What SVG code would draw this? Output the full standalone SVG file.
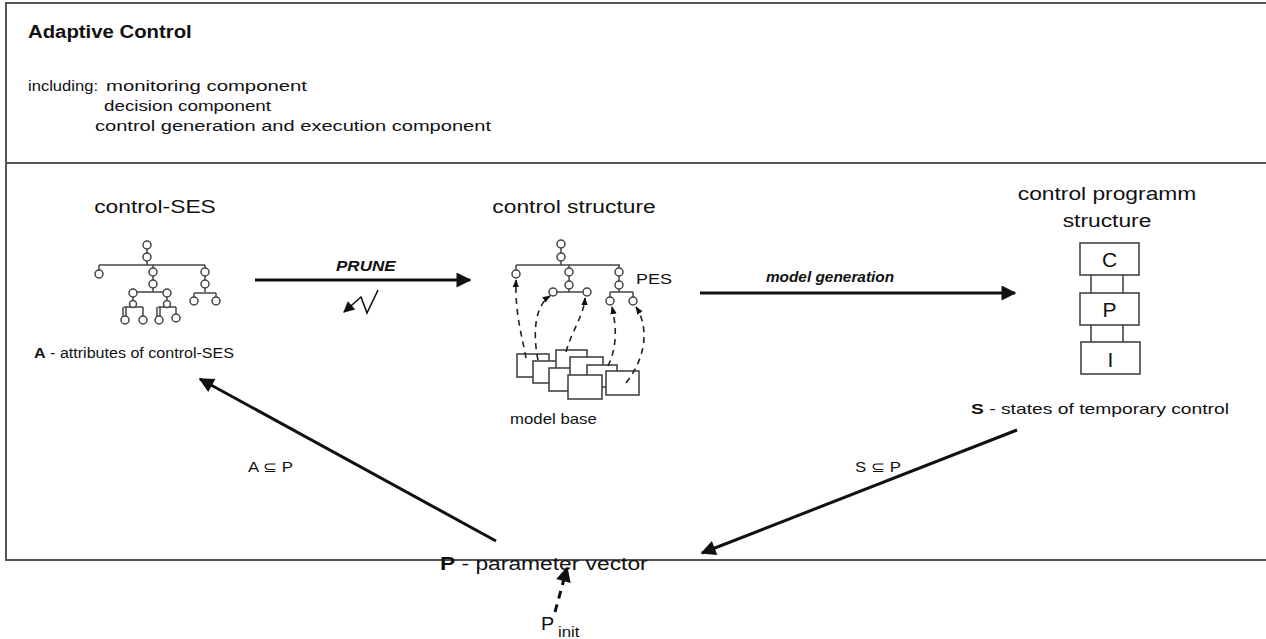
<svg xmlns="http://www.w3.org/2000/svg" width="1266" height="639" viewBox="0 0 1266 639">
  <style>
    text { font-family: "Liberation Sans", Arial, sans-serif; fill: #111; }
    .frame { fill: none; stroke: #555; stroke-width: 2; }
    .tree line { stroke: #444; stroke-width: 1.5; fill: none; }
    .tree circle { fill: #fff; stroke: #444; stroke-width: 1.5; }
    .box { fill: #fff; stroke: #444; stroke-width: 1.6; }
    .link { stroke: #444; stroke-width: 1.6; }
    .arrow { stroke: #111; stroke-width: 3; fill: none; }
    .dash { stroke: #222; stroke-width: 1.6; fill: none; stroke-dasharray: 6 5; }
  </style>
  <defs>
    <marker id="head" viewBox="0 0 10 10" refX="9" refY="5" markerWidth="6" markerHeight="5" orient="auto" markerUnits="strokeWidth">
      <path d="M0,0 L10,5 L0,10 z" fill="#111"/>
    </marker>
    <marker id="headSmall" viewBox="0 0 10 10" refX="9" refY="5" markerWidth="5" markerHeight="5" orient="auto" markerUnits="strokeWidth">
      <path d="M0,1 L10,5 L0,9 z" fill="#111"/>
    </marker>
    <marker id="headBolt" viewBox="0 0 10 10" refX="9" refY="5" markerWidth="9" markerHeight="7" orient="auto" markerUnits="strokeWidth">
      <path d="M0,0 L10,5 L0,10 z" fill="#111"/>
    </marker>
  </defs>

  <rect width="1266" height="639" fill="#fff"/>

  <!-- frame of the adaptive control block -->
  <g id="frame">
    <path class="frame" d="M1266,3 H6 V560 H1266"/>
    <line class="frame" x1="6" y1="163" x2="1266" y2="163"/>
  </g>

  <g id="header">
    <text transform="translate(28,38) scale(1.13,1)" font-size="18" font-weight="bold">Adaptive Control</text>
    <text x="28" y="91" font-size="15" textLength="70" lengthAdjust="spacingAndGlyphs">including:</text>
    <text x="106" y="91" font-size="15" textLength="201" lengthAdjust="spacingAndGlyphs">monitoring component</text>
    <text x="104" y="111" font-size="15" textLength="167" lengthAdjust="spacingAndGlyphs">decision component</text>
    <text x="95" y="131" font-size="15" textLength="396" lengthAdjust="spacingAndGlyphs">control generation and execution component</text>
  </g>

  <!-- control-SES -->
  <g id="control-ses">
    <text transform="translate(155,213) scale(1.2,1)" font-size="19" text-anchor="middle">control-SES</text>
    <g class="tree">
      <line x1="147" y1="249" x2="147" y2="265"/>
      <line x1="99" y1="265" x2="205" y2="265"/>
      <line x1="99" y1="265" x2="99" y2="270"/>
      <line x1="153" y1="265" x2="153" y2="292"/>
      <line x1="205" y1="265" x2="205" y2="292"/>
      <line x1="133" y1="292" x2="167" y2="292"/>
      <line x1="194" y1="293" x2="216" y2="293"/>
      <line x1="194" y1="293" x2="194" y2="298"/>
      <line x1="216" y1="293" x2="216" y2="298"/>
      <line x1="133" y1="292" x2="133" y2="307"/>
      <line x1="167" y1="292" x2="167" y2="307"/>
      <line x1="124" y1="307" x2="143" y2="307"/>
      <line x1="158" y1="307" x2="176" y2="307"/>
      <line x1="123" y1="307" x2="123" y2="316"/>
      <line x1="126" y1="307" x2="126" y2="316"/>
      <line x1="143" y1="307" x2="143" y2="316"/>
      <line x1="157" y1="307" x2="157" y2="316"/>
      <line x1="160" y1="307" x2="160" y2="316"/>
      <line x1="176" y1="307" x2="176" y2="314"/>
      <circle cx="147" cy="245" r="4"/>
      <circle cx="147" cy="257" r="4"/>
      <circle cx="99" cy="274" r="4"/>
      <circle cx="153" cy="272" r="4"/>
      <circle cx="153" cy="284" r="4"/>
      <circle cx="205" cy="272" r="4"/>
      <circle cx="205" cy="284" r="4"/>
      <circle cx="133" cy="293" r="4"/>
      <circle cx="167" cy="293" r="4"/>
      <circle cx="133" cy="304" r="3.5"/>
      <circle cx="167" cy="304" r="3.5"/>
      <circle cx="194" cy="301" r="4"/>
      <circle cx="216" cy="301" r="4"/>
      <circle cx="125" cy="320" r="4"/>
      <circle cx="143" cy="320" r="4"/>
      <circle cx="159" cy="320" r="4"/>
      <circle cx="176" cy="318" r="4"/>
    </g>
    <text x="34" y="358" font-size="14" textLength="200" lengthAdjust="spacingAndGlyphs"><tspan font-weight="bold">A</tspan> - attributes of control-SES</text>
  </g>

  <!-- control structure (PES) with model base -->
  <g id="control-structure">
    <text transform="translate(574,213) scale(1.2,1)" font-size="19" text-anchor="middle">control structure</text>
    <g class="tree">
      <line x1="561" y1="248" x2="561" y2="265"/>
      <line x1="516" y1="265" x2="620" y2="265"/>
      <line x1="516" y1="265" x2="516" y2="270"/>
      <line x1="569" y1="265" x2="569" y2="292"/>
      <line x1="619" y1="265" x2="619" y2="292"/>
      <line x1="553" y1="292" x2="587" y2="292"/>
      <line x1="610" y1="292" x2="633" y2="292"/>
      <line x1="610" y1="292" x2="610" y2="297"/>
      <line x1="633" y1="292" x2="633" y2="297"/>
      <circle cx="561" cy="244" r="4"/>
      <circle cx="561" cy="257" r="4"/>
      <circle cx="516" cy="274" r="4"/>
      <circle cx="569" cy="272" r="4"/>
      <circle cx="569" cy="285" r="4"/>
      <circle cx="619" cy="272" r="4"/>
      <circle cx="619" cy="285" r="4"/>
      <circle cx="553" cy="292" r="4"/>
      <circle cx="587" cy="292" r="4"/>
      <circle cx="610" cy="301" r="4"/>
      <circle cx="633" cy="301" r="4"/>
    </g>
    <text transform="translate(636,284) scale(1.2,1)" font-size="15">PES</text>
  </g>

  <g id="model-base">
    <rect class="box" x="517" y="354" width="32" height="23"/>
    <rect class="box" x="533" y="361" width="30" height="22"/>
    <rect class="box" x="556" y="350" width="31" height="22"/>
    <rect class="box" x="549" y="368" width="31" height="23"/>
    <rect class="box" x="570" y="357" width="33" height="22"/>
    <rect class="box" x="587" y="365" width="30" height="22"/>
    <rect class="box" x="568" y="375" width="34" height="24"/>
    <rect class="box" x="606" y="371" width="33" height="24"/>
    <text transform="translate(510,424) scale(1.2,1)" font-size="14">model base</text>
  </g>

  <!-- control programm structure -->
  <g id="control-programm-structure">
    <text transform="translate(1107,200) scale(1.2,1)" font-size="19" text-anchor="middle">control programm</text>
    <text transform="translate(1107,227) scale(1.2,1)" font-size="19" text-anchor="middle">structure</text>
    <line class="link" x1="1091" y1="275" x2="1091" y2="293"/>
    <line class="link" x1="1123" y1="275" x2="1123" y2="293"/>
    <line class="link" x1="1091" y1="325" x2="1091" y2="342"/>
    <line class="link" x1="1123" y1="325" x2="1123" y2="342"/>
    <rect class="box" x="1080" y="243" width="59" height="32"/>
    <rect class="box" x="1080" y="293" width="59" height="32"/>
    <rect class="box" x="1081" y="342" width="59" height="32"/>
    <text x="1109.5" y="267" font-size="21" text-anchor="middle">C</text>
    <text x="1109.5" y="317" font-size="21" text-anchor="middle">P</text>
    <text x="1110.5" y="367" font-size="21" text-anchor="middle">I</text>
    <text x="971" y="414" font-size="15" textLength="258" lengthAdjust="spacingAndGlyphs"><tspan font-weight="bold">S</tspan> - states of temporary control</text>
  </g>

  <g id="parameter-vector">
    <text transform="translate(440,570) scale(1.2,1)" font-size="19"><tspan font-weight="bold">P</tspan> - parameter vector</text>
  </g>

  <g id="p-init">
    <text transform="translate(541,630) scale(1.1,1)" font-size="18">P</text>
    <text transform="translate(558,637) scale(1.2,1)" font-size="14">init</text>
  </g>

  <!-- connectors -->
  <g id="connectors">
    <line class="arrow" x1="255" y1="280" x2="470" y2="280" marker-end="url(#head)"/>
    <text transform="translate(336,271) scale(1.1,1)" font-size="15.5" font-weight="bold" font-style="italic">PRUNE</text>
    <polyline points="378,290 367,313 361,297 344,312" fill="none" stroke="#111" stroke-width="1.6" marker-end="url(#headBolt)"/>

    <line class="arrow" x1="700" y1="293" x2="1015" y2="293" marker-end="url(#head)"/>
    <text transform="translate(830,282) scale(1.1,1)" font-size="14" font-weight="bold" font-style="italic" text-anchor="middle">model generation</text>

    <line class="arrow" x1="496" y1="541" x2="200" y2="379" marker-end="url(#head)"/>
    <text transform="translate(248,472) scale(1.2,1)" font-size="14">A ⊆ P</text>

    <line class="arrow" x1="1017" y1="430" x2="702" y2="553" marker-end="url(#head)"/>
    <text transform="translate(855,472) scale(1.2,1)" font-size="14">S ⊆ P</text>

    <line class="arrow" x1="555" y1="612" x2="567" y2="568" stroke-dasharray="8 6" marker-end="url(#head)"/>

    <path class="dash" d="M526,358 C522,335 515,315 516,280" marker-end="url(#headSmall)"/>
    <path class="dash" d="M538,360 C532,330 536,305 550,296" marker-end="url(#headSmall)"/>
    <path class="dash" d="M566,352 C572,330 584,315 585,298" marker-end="url(#headSmall)"/>
    <path class="dash" d="M608,366 C618,345 616,325 612,307" marker-end="url(#headSmall)"/>
    <path class="dash" d="M626,383 C648,355 648,325 636,307" marker-end="url(#headSmall)"/>
  </g>
</svg>
